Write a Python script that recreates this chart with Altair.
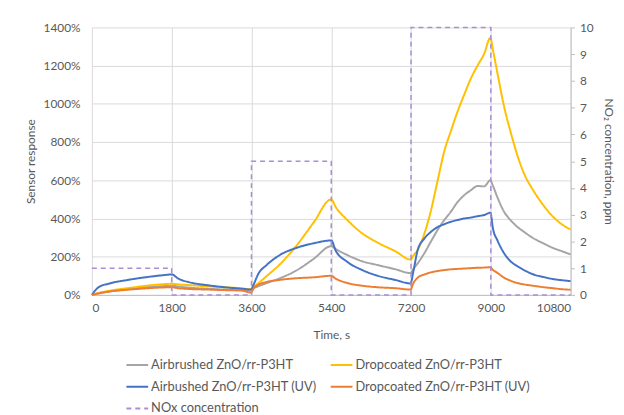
import altair as alt
import pandas as pd

time_s = [0, 150, 400, 800, 1200, 1600, 1800, 1950, 2200, 2600, 3000, 3400, 3590,
          3650, 3750, 3950, 4250, 4600, 5000, 5400, 5500, 5750, 6100, 6450, 6850, 7190,
          7250, 7350, 7500, 7650, 7800, 7950, 8100, 8250, 8400, 8550, 8700, 8850, 8990,
          9050, 9150, 9300, 9450, 9600, 9750, 9950, 10200, 10400, 10600, 10800]

airbrushed = [0, 8, 18, 30, 40, 46, 48, 44, 38, 32, 28, 25, 23,
              35, 45, 62, 88, 126, 188, 255, 240, 210, 176, 156, 134, 114,
              135, 165, 218, 280, 340, 392, 436, 486, 522, 548, 570, 568, 600,
              570, 510, 435, 390, 356, 330, 298, 268, 246, 229, 212]

dropcoated = [0, 10, 22, 35, 47, 56, 58, 55, 51, 45, 40, 34, 30,
              42, 60, 100, 162, 253, 378, 500, 460, 395, 322, 273, 228, 185,
              205, 235, 320, 442, 598, 752, 858, 960, 1048, 1133, 1200, 1262, 1345,
              1280, 1160, 985, 850, 730, 635, 550, 465, 410, 370, 342]

airbushed_uv = [0, 40, 60, 78, 92, 103, 107, 85, 66, 51, 40, 32, 28,
                55, 108, 158, 210, 245, 270, 285, 232, 175, 130, 100, 78, 60,
                120, 235, 295, 330, 355, 370, 383, 392, 400, 405, 412, 418, 430,
                345, 285, 218, 175, 150, 130, 108, 93, 83, 77, 72]

dropcoated_uv = [0, 8, 18, 27, 34, 39, 40, 35, 31, 28, 25, 22, 12,
                 35, 52, 68, 79, 87, 92, 100, 85, 63, 48, 40, 35, 28,
                 60, 90, 107, 118, 125, 130, 134, 136, 138, 140, 142, 143, 145,
                 130, 115, 90, 74, 62, 55, 48, 40, 35, 30, 27]

nox_time = [0, 1800, 3600, 5400, 7200, 9000, 10800]
nox_ppm = [1, 0, 5, 0, 10, 0, 0]

names = ["Airbrushed ZnO/rr-P3HT", "Dropcoated ZnO/rr-P3HT",
         "Airbushed ZnO/rr-P3HT (UV)", "Dropcoated ZnO/rr-P3HT (UV)",
         "NOx concentration"]
colors = ["#A5A5A5", "#FFC000", "#4472C4", "#ED7D31", "#A98ED6"]
dashes = [[1, 0], [1, 0], [1, 0], [1, 0], [5, 4]]

x_ticks = [0, 1800, 3600, 5400, 7200, 9000, 10800]
y_ticks = [0, 2, 4, 6, 8, 10, 12, 14]
ppm_ticks = list(range(0, 11))

rows = []
for name, vals in zip(names[:4], [airbrushed, dropcoated, airbushed_uv, dropcoated_uv]):
    for i, (t, v) in enumerate(zip(time_s, vals)):
        rows.append({"t": t, "r": v / 100.0, "series": name, "k": i})
df = pd.DataFrame(rows)
df_nox = pd.DataFrame({"t": nox_time, "ppm": nox_ppm, "series": names[4]})

font = "Lato"
txt = "#595959"

color_scale = alt.Scale(domain=names, range=colors)
dash_scale = alt.Scale(domain=names, range=dashes)
legend = alt.Legend(title=None, orient="none", direction="horizontal",
                    legendX=34, legendY=330, columns=2,
                    columnPadding=10, rowPadding=3, symbolType="stroke",
                    symbolSize=484, symbolStrokeWidth=2, labelOffset=2,
                    labelFont=font, labelFontSize=13, labelColor=txt, labelLimit=300)

x_enc = alt.X("t:Q", scale=alt.Scale(domain=[0, 10800], nice=False),
              axis=alt.Axis(values=x_ticks, format="d", title="Time, s", grid=True,
                            ticks=False, domain=True, labelPadding=8, titlePadding=16))

lines = alt.Chart(df).mark_line(strokeWidth=2, interpolate="monotone").encode(
    x=x_enc,
    y=alt.Y("r:Q", scale=alt.Scale(domain=[0, 14], nice=False),
            axis=alt.Axis(values=y_ticks, format=".0%", title="Sensor response",
                          grid=True, ticks=False, domain=False, labelPadding=12,
                          titlePadding=6)),
    color=alt.Color("series:N", scale=color_scale, legend=legend, sort=names),
    strokeDash=alt.StrokeDash("series:N", scale=dash_scale, legend=legend, sort=names),
    order="k:Q",
)

nox = alt.Chart(df_nox).mark_line(strokeWidth=1.5, interpolate="step-after").encode(
    x=x_enc,
    y=alt.Y("ppm:Q", scale=alt.Scale(domain=[0, 10], nice=False),
            axis=alt.Axis(orient="right", values=ppm_ticks, title="NO₂ concentration, ppm",
                          grid=False, ticks=True, tickSize=4, domain=True,
                          labelPadding=5, titlePadding=8)),
    color=alt.Color("series:N", scale=color_scale, legend=legend, sort=names),
    strokeDash=alt.StrokeDash("series:N", scale=dash_scale, legend=legend, sort=names),
)

chart = alt.layer(lines, nox).resolve_scale(y="independent").properties(
    width=485, height=271,
    autosize=alt.AutoSizeParams(type="none"),
    padding={"left": 85, "top": 17, "right": 46, "bottom": 119},
).configure_view(stroke=None).configure_axis(
    labelFont=font, titleFont=font, labelFontSize=12, titleFontSize=12,
    labelColor=txt, titleColor=txt, titleFontWeight="normal",
    gridColor="#D9D9D9", domainColor="#BFBFBF", tickColor="#BFBFBF",
)

chart.save("out.html", embed_options={"renderer": "svg", "actions": False})
